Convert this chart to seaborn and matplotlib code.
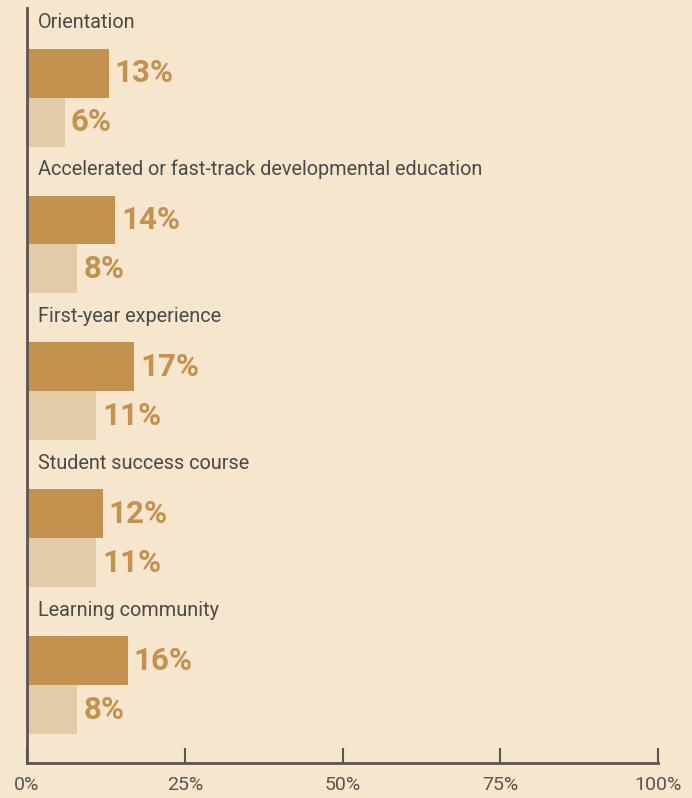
import matplotlib
matplotlib.use("Agg")
import matplotlib.pyplot as plt
import seaborn as sns
import pandas as pd

# Program categories and the two share series (percent)
programs = [
    "Orientation",
    "Accelerated or fast-track developmental education",
    "First-year experience",
    "Student success course",
    "Learning community",
]
series_names = ["Series A", "Series B"]
values_a = [13, 14, 17, 12, 16]
values_b = [6, 8, 11, 11, 8]
tick_values = [0, 25, 50, 75, 100]
tick_labels = ["0%", "25%", "50%", "75%", "100%"]

BG = "#F6E6CD"
DARK = "#C4924F"
LIGHT = "#E3CAA8"
TEXT = "#4A4A4A"
AXIS = "#5A5550"

sns.set_style("white")
plt.rcParams["font.family"] = ["Roboto", "DejaVu Sans"]

df = pd.DataFrame({
    "program": programs * 2,
    "series": [series_names[0]] * len(programs) + [series_names[1]] * len(programs),
    "value": values_a + values_b,
})

fig = plt.figure(figsize=(6.92, 7.98), dpi=100, facecolor=BG)
ax = fig.add_axes([27 / 692, 35 / 798, (658 - 27) / 692, (763 - 8) / 798])
ax.set_facecolor(BG)

sns.barplot(
    data=df, y="program", x="value", hue="series", order=programs,
    hue_order=series_names, palette=[DARK, LIGHT], orient="h",
    width=0.667, dodge=True, legend=False, ax=ax, saturation=1,
    linewidth=0, edgecolor="none",
)

ax.set_xlim(0, 100)
ax.set_ylim(4.53, -0.61)

# Value labels next to each bar
for container in ax.containers:
    for patch in container:
        w = patch.get_width()
        yc = patch.get_y() + patch.get_height() / 2
        ax.text(w + 0.9, yc, f"{w:.0f}%", va="center", ha="left",
                fontsize=22.5, fontweight="bold", color=DARK)

# Category titles above each pair of bars
for i, name in enumerate(programs):
    ax.text(1.7, i - 0.51, name, va="center", ha="left",
            fontsize=14.3, color=TEXT)

ax.set_yticks([])
ax.set_ylabel("")
ax.set_xlabel("")
ax.set_xticks(tick_values)
ax.set_xticklabels(tick_labels, fontsize=14, color="#555555")
ax.tick_params(axis="x", bottom=True, direction="in", length=11, width=1.5,
               color=AXIS, pad=9)

for side in ["top", "right"]:
    ax.spines[side].set_visible(False)
for side in ["left", "bottom"]:
    ax.spines[side].set_color(AXIS)
    ax.spines[side].set_linewidth(2)

fig.savefig("out.png", dpi=100, facecolor=BG)
